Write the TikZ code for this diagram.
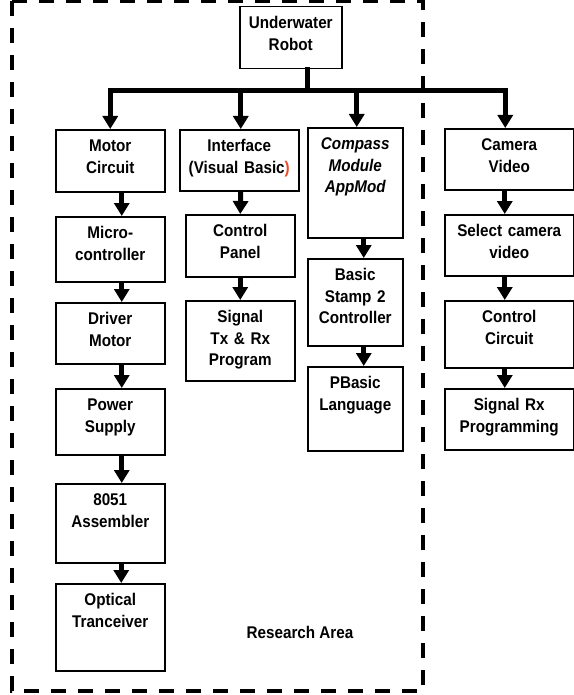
\documentclass[tikz,border=0pt]{standalone}
\usepackage{fontspec}
\setmainfont{Liberation Sans}[FakeStretch=0.9]
\usetikzlibrary{arrows.meta}
\definecolor{parenred}{RGB}{235,75,35}
\begin{document}
\begin{tikzpicture}[x=1bp, y=-1bp,
    blk/.style={draw, line width=1.5bp, anchor=north west, inner sep=0pt, align=center, text width=#1, text height=22bp, font=\bfseries\fontsize{17}{21.7}\selectfont},
    arr/.style={line width=5bp, -{Triangle[width=15bp,length=13bp]}},
    bus/.style={line width=5bp, line cap=rect},
    frame/.style={line width=4bp, dash pattern=on 15bp off 12bp}]
  \useasboundingbox (0,0) rectangle (574,695);
  \draw[frame] (12,1) rectangle (423,691);
  \node[blk=102bp, text depth=40bp] (robot) at (239,6) {Underwater\\Robot};
  \node[blk=109bp, text depth=40bp] (motor) at (55,129) {Motor\\Circuit};
  \node[blk=119bp, text depth=39bp] (iface) at (179,129) {Interface\\(Visual Basic\textcolor{parenred}{)}};
  \node[blk=95bp, text depth=88bp] (compass) at (307,127) {\itshape Compass\\Module\\AppMod};
  \node[blk=129bp, text depth=39bp] (camera) at (444,128) {Camera\\Video};
  \node[blk=109bp, text depth=43bp] (micro) at (55,216) {Micro-\\controller};
  \node[blk=109bp, text depth=39bp] (driver) at (55,302) {Driver\\Motor};
  \node[blk=109bp, text depth=44bp] (power) at (55,388) {Power\\Supply};
  \node[blk=109bp, text depth=57bp] (asm) at (55,483) {8051\\Assembler};
  \node[blk=109bp, text depth=65bp] (optic) at (55,583) {Optical\\Tranceiver};
  \node[blk=109bp, text depth=40bp] (panel) at (185,214) {Control\\Panel};
  \node[blk=109bp, text depth=58bp] (sigtx) at (185,300) {Signal\\Tx \& Rx\\Program};
  \node[blk=95bp, text depth=65bp] (stamp) at (307,258) {Basic\\Stamp 2\\Controller};
  \node[blk=95bp, text depth=62bp] (pbasic) at (307,366) {PBasic\\Language};
  \node[blk=129bp, text depth=39bp] (select) at (444,214) {Select camera\\video};
  \node[blk=129bp, text depth=45bp] (ctrlcirc) at (444,300) {Control\\Circuit};
  \node[blk=129bp, text depth=39bp] (sigrx) at (444,388) {Signal Rx\\Programming};
  \node[anchor=base, font=\bfseries\fontsize{17}{21.7}\selectfont] (area) at (300,638) {Research Area};
  \coordinate (bus) at (0,91);
  \draw[bus] ([xshift=17bp]robot.south) -- ([xshift=17bp]robot.south |- bus);
  \draw[bus] (motor.north |- bus) -- ([xshift=-4bp]camera.north |- bus);
  \draw[arr] (motor.north |- bus) -- (motor.north);
  \draw[arr] ([xshift=1.5bp]iface.north |- bus) -- ([xshift=1.5bp]iface.north);
  \draw[arr] ([xshift=1.5bp]compass.north |- bus) -- ([xshift=1.5bp]compass.north);
  \draw[arr] ([xshift=-4bp]camera.north |- bus) -- ([xshift=-4bp]camera.north);
  \draw[arr] ([xshift=11.5bp]motor.south) -- ([xshift=11.5bp]micro.north);
  \draw[arr] ([xshift=11.5bp]micro.south) -- ([xshift=11.5bp]driver.north);
  \draw[arr] ([xshift=11.5bp]driver.south) -- ([xshift=11.5bp]power.north);
  \draw[arr] ([xshift=11.5bp]power.south) -- ([xshift=11.5bp]asm.north);
  \draw[arr] ([xshift=11bp]asm.south) -- ([xshift=11bp]optic.north);
  \draw[arr] ([xshift=1.5bp]iface.south) -- (panel.north);
  \draw[arr] (panel.south) -- (sigtx.north);
  \draw[arr] ([xshift=8.5bp]compass.south) -- ([xshift=8.5bp]stamp.north);
  \draw[arr] ([xshift=8.5bp]stamp.south) -- ([xshift=8.5bp]pbasic.north);
  \draw[arr] ([xshift=-4.5bp]camera.south) -- ([xshift=-4.5bp]select.north);
  \draw[arr] ([xshift=-4.5bp]select.south) -- ([xshift=-4.5bp]ctrlcirc.north);
  \draw[arr] ([xshift=-4.5bp]ctrlcirc.south) -- ([xshift=-4.5bp]sigrx.north);
\end{tikzpicture}
\end{document}
